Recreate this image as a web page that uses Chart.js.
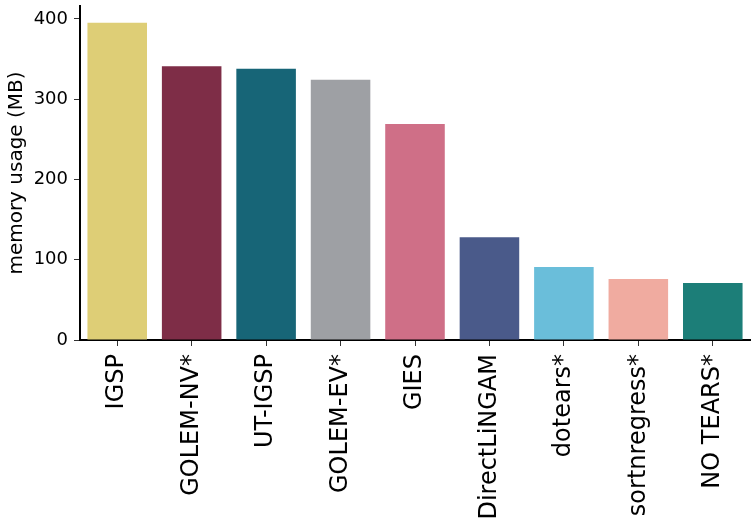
<!DOCTYPE html>
<html>
<head>
<meta charset="utf-8">
<script src="https://cdn.jsdelivr.net/npm/chart.js@4.4.1/dist/chart.umd.min.js"></script>
<style>
  html, body { margin: 0; padding: 0; background: #fff; }
  #wrap { width: 756px; height: 524px; }
</style>
</head>
<body>
<div id="wrap"><canvas id="myChart" width="756" height="524"></canvas></div>
<script>
var methods = ["IGSP", "GOLEM-NV*", "UT-IGSP", "GOLEM-EV*", "GIES", "DirectLiNGAM", "dotears*", "sortnregress*", "NO TEARS*"];
var memoryMB = [395, 341, 338, 324, 269, 128, 91, 76, 71];
var barColors = ["#DECE76", "#7E2D47", "#176577", "#9EA0A4", "#CF6F87", "#4A5A8A", "#6ABEDA", "#F0ABA0", "#1C7E78"];
var yTicks = [0, 100, 200, 300, 400];

Chart.defaults.font.family = "'DejaVu Sans', sans-serif";
Chart.defaults.color = "#000";

new Chart("myChart", {
  type: "bar",
  data: {
    labels: methods,
    datasets: [{
      data: memoryMB,
      backgroundColor: barColors,
      borderWidth: 0,
      barPercentage: 0.8,
      categoryPercentage: 1.0
    }]
  },
  options: {
    responsive: false,
    animation: false,
    layout: { padding: { top: 6, right: 6, left: 0, bottom: 0 } },
    plugins: { legend: { display: false }, tooltip: { enabled: false } },
    scales: {
      x: {
        grid: { offset: false, drawOnChartArea: false, drawTicks: true, tickLength: 6, color: "#333", lineWidth: 1 },
        border: { display: true, color: "#000", width: 2 },
        ticks: { maxRotation: 90, minRotation: 90, padding: 8, font: { size: 24 } },
        afterFit: function (axis) { axis.height = 184; }
      },
      y: {
        min: 0,
        max: 416,
        afterBuildTicks: function (axis) {
          axis.ticks = yTicks.map(function (v) { return { value: v }; });
        },
        grid: { drawOnChartArea: false, drawTicks: true, tickLength: 6, color: "#333", lineWidth: 1 },
        border: { display: true, color: "#000", width: 2 },
        ticks: { padding: 6, font: { size: 18 } },
        title: { display: true, text: "memory usage (MB)", font: { size: 20 }, padding: { top: 5, bottom: 0 } },
        afterFit: function (axis) {
          axis.width = 80;
          axis.paddingTop = 0;
        }
      }
    }
  }
});
</script>
</body>
</html>
